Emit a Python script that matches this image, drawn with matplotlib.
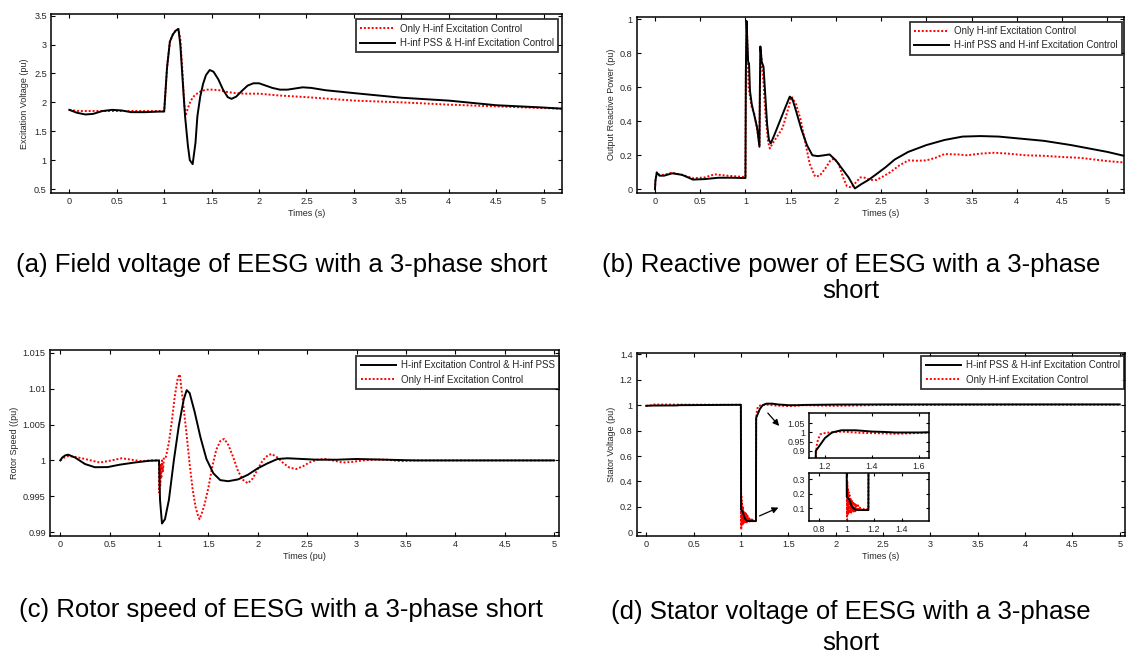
import matplotlib
matplotlib.use("Agg")
import matplotlib.pyplot as plt
from matplotlib.ticker import FuncFormatter

plt.rcParams['font.family'] = ['Liberation Sans', 'DejaVu Sans']

# ---------------- data ----------------
# (a) Field / excitation voltage
a_t_black = [0, 0.08, 0.17, 0.25, 0.35, 0.45, 0.55, 0.65, 0.8, 0.95, 1.0, 1.03, 1.06, 1.09, 1.12, 1.15,
             1.17, 1.19, 1.22, 1.25, 1.27, 1.30, 1.33, 1.35, 1.38, 1.41, 1.44, 1.48, 1.52, 1.57, 1.62,
             1.67, 1.71, 1.76, 1.82, 1.88, 1.94, 2.0, 2.07, 2.14, 2.22, 2.30, 2.38, 2.46, 2.55, 2.7,
             3.0, 3.5, 4.0, 4.5, 5.0, 5.2]
a_v_black = [1.87, 1.82, 1.79, 1.80, 1.85, 1.87, 1.86, 1.83, 1.83, 1.84, 1.84, 2.6, 3.05, 3.17, 3.24, 3.27,
             3.0, 2.5, 1.76, 1.25, 1.0, 0.93, 1.3, 1.76, 2.1, 2.32, 2.47, 2.56, 2.53, 2.40, 2.22,
             2.09, 2.06, 2.1, 2.2, 2.29, 2.33, 2.33, 2.29, 2.25, 2.22, 2.22, 2.24, 2.26, 2.25, 2.21,
             2.16, 2.08, 2.03, 1.95, 1.91, 1.89]
a_t_red = [0, 0.1, 0.3, 0.5, 0.7, 0.9, 1.0, 1.03, 1.06, 1.09, 1.12, 1.15, 1.17, 1.19, 1.21, 1.225,
           1.25, 1.28, 1.32, 1.37, 1.44, 1.5, 1.58, 1.66, 1.75, 1.85, 2.0, 2.2, 2.5, 3.0, 3.5, 4.0,
           4.5, 5.0, 5.2]
a_v_red = [1.87, 1.85, 1.85, 1.85, 1.85, 1.85, 1.85, 2.6, 3.05, 3.17, 3.24, 3.27, 3.1, 2.6, 2.0, 1.77,
           1.9, 2.03, 2.12, 2.18, 2.22, 2.22, 2.21, 2.18, 2.16, 2.15, 2.15, 2.12, 2.09, 2.03, 2.0, 1.96,
           1.93, 1.90, 1.89]

# (b) Reactive power
b_t_black = [0, 0.005, 0.02, 0.05, 0.1, 0.19, 0.3, 0.42, 0.55, 0.7, 0.85, 1.0, 1.005, 1.012, 1.02,
             1.03, 1.04, 1.05, 1.07, 1.1, 1.13, 1.155, 1.16, 1.165, 1.18, 1.2, 1.22, 1.24, 1.26, 1.28,
             1.32, 1.38, 1.44, 1.49, 1.52, 1.56, 1.62, 1.68, 1.74, 1.8, 1.87, 1.93, 2.0, 2.07, 2.14,
             2.21, 2.28, 2.36, 2.45, 2.55, 2.65, 2.8, 3.0, 3.2, 3.4, 3.6, 3.8, 4.0, 4.3, 4.6, 5.0, 5.2]
b_v_black = [0, 0.05, 0.098, 0.08, 0.08, 0.094, 0.085, 0.057, 0.06, 0.068, 0.068, 0.066, 0.7, 0.99, 0.88,
             0.75, 0.74, 0.58, 0.5, 0.43, 0.36, 0.25, 0.6, 0.84, 0.75, 0.72, 0.55, 0.38, 0.29, 0.27,
             0.32, 0.40, 0.48, 0.545, 0.53, 0.46, 0.35, 0.26, 0.2, 0.195, 0.2, 0.205, 0.17, 0.12, 0.07,
             0.005, 0.03, 0.055, 0.09, 0.13, 0.175, 0.22, 0.26, 0.29, 0.31, 0.313, 0.31, 0.3, 0.285, 0.26, 0.22, 0.195]
b_t_red = [0, 0.005, 0.02, 0.05, 0.1, 0.19, 0.3, 0.42, 0.55, 0.66, 0.8, 1.0, 1.005, 1.015, 1.025, 1.035,
           1.05, 1.07, 1.1, 1.13, 1.155, 1.16, 1.17, 1.18, 1.2, 1.22, 1.25, 1.27, 1.3, 1.35, 1.41,
           1.46, 1.51, 1.56, 1.61, 1.66, 1.71, 1.77, 1.82, 1.88, 1.94, 1.98, 2.03, 2.08, 2.12, 2.17,
           2.22, 2.27, 2.32, 2.38, 2.45, 2.52, 2.6, 2.7, 2.8, 2.9, 3.0, 3.1, 3.2, 3.35, 3.45, 3.6,
           3.75, 3.9, 4.1, 4.3, 4.5, 4.7, 5.0, 5.2]
b_v_red = [0, 0.05, 0.1, 0.085, 0.085, 0.098, 0.085, 0.065, 0.07, 0.088, 0.08, 0.072, 0.7, 0.98, 0.8, 0.6,
           0.55, 0.48, 0.44, 0.35, 0.26, 0.6, 0.82, 0.75, 0.62, 0.45, 0.28, 0.24, 0.27, 0.31, 0.36,
           0.45, 0.545, 0.5, 0.41, 0.28, 0.15, 0.075, 0.08, 0.12, 0.17, 0.18, 0.15, 0.07, 0.02, 0.01,
           0.04, 0.07, 0.068, 0.055, 0.055, 0.075, 0.1, 0.14, 0.17, 0.168, 0.17, 0.185, 0.207, 0.205, 0.2, 0.21,
           0.215, 0.21, 0.2, 0.197, 0.19, 0.185, 0.166, 0.157]

# (c) Rotor speed
c_t_black = [0, 0.02, 0.05, 0.08, 0.15, 0.25, 0.35, 0.48, 0.6, 0.75, 0.9, 1.0, 1.01, 1.03, 1.06, 1.1,
             1.15, 1.2, 1.25, 1.28, 1.31, 1.36, 1.42, 1.48, 1.55, 1.62, 1.7, 1.8, 1.9, 2.0, 2.1, 2.2,
             2.3, 2.45, 2.6, 2.8, 3.0, 3.3, 3.6, 4.0, 5.0]
c_v_black = [1.0, 1.0004, 1.0007, 1.0008, 1.0004, 0.9995, 0.99905, 0.99907, 0.9994, 0.9997, 0.99995, 1.0,
             0.9945, 0.9912, 0.9918, 0.9945, 1.0, 1.0048, 1.0085, 1.0098, 1.0094, 1.0068, 1.0032, 1.0002,
             0.9982, 0.99725, 0.9971, 0.99735, 0.9980, 0.9989, 0.9996, 1.0002, 1.0003, 1.0002, 1.0001,
             1.0001, 1.0002, 1.0001, 1.0, 1.0, 1.0]
c_t_red = [0, 0.04, 0.08, 0.15, 0.25, 0.4, 0.52, 0.62, 0.72, 0.82, 0.92, 1.0, 1.003, 1.008, 1.013, 1.018,
           1.023, 1.03, 1.04, 1.05, 1.07, 1.1, 1.13, 1.16, 1.19, 1.21, 1.24, 1.28, 1.31, 1.34, 1.37,
           1.39, 1.41, 1.43, 1.46, 1.5, 1.54, 1.58, 1.62, 1.66, 1.7, 1.75, 1.8, 1.85, 1.9, 1.95, 2.0,
           2.05, 2.1, 2.14, 2.2, 2.26, 2.32, 2.39, 2.46, 2.52, 2.6, 2.68, 2.76, 2.86, 2.96, 3.06, 3.2,
           3.3, 3.45, 3.6, 3.8, 4.0, 5.0]
c_v_red = [1.0, 1.0004, 1.0006, 1.0005, 1.0002, 0.9997, 1.0, 1.0003, 1.0001, 0.9999, 1.0, 1.0, 0.9955,
           0.999, 0.9965, 0.9995, 0.9975, 1.0, 0.9985, 1.0005, 1.0005, 1.0025, 1.0055, 1.009, 1.0115,
           1.012, 1.0085, 1.0035, 0.9995, 0.996, 0.9935, 0.9925, 0.9918, 0.9925, 0.9938, 0.9962,
           0.9992, 1.0015, 1.0027, 1.003, 1.0022, 1.0005, 0.9985, 0.9973, 0.9968, 0.9975, 0.9988,
           1.0, 1.0007, 1.0009, 1.0004, 0.9996, 0.999, 0.9988, 0.9992, 0.9997, 1.0001, 1.0002, 1.0,
           0.9997, 0.9998, 1.0, 1.0001, 1.0001, 0.9999, 1.0, 1.0, 1.0, 1.0]

# (d) Stator voltage
d_t_black = [0, 0.05, 0.33, 0.34, 0.99, 1.0, 1.002, 1.02, 1.04, 1.06, 1.08, 1.1, 1.159, 1.161, 1.175,
             1.2, 1.23, 1.27, 1.33, 1.4, 1.45, 1.5, 1.6, 1.67, 1.8, 2.0, 2.5, 3.0, 4.0, 5.0]
d_v_black = [0.995, 0.997, 0.998, 1.0, 1.003, 1.003, 0.18, 0.16, 0.11, 0.092, 0.088, 0.088, 0.088, 0.9,
             0.925, 0.97, 1.0, 1.012, 1.012, 1.005, 1.003, 1.0, 1.0, 1.002, 1.003, 1.005, 1.006, 1.006,
             1.006, 1.006]
d_t_red = [0, 0.05, 0.06, 0.99, 1.0, 1.002, 1.004, 1.006, 1.008, 1.010, 1.013, 1.016, 1.019, 1.022, 1.026,
           1.030, 1.034, 1.038, 1.043, 1.048, 1.053, 1.058, 1.064, 1.07, 1.077, 1.084, 1.092, 1.1, 1.11,
           1.12, 1.13, 1.14, 1.159, 1.161, 1.165, 1.17, 1.18, 1.19, 1.22, 1.27, 1.35, 1.45, 1.5, 1.6,
           1.67, 1.8, 2.0, 2.5, 3.0, 4.0, 5.0]
d_v_red = [0.995, 0.997, 1.005, 1.003, 1.003, 0.33, 0.02, 0.28, 0.05, 0.24, 0.06, 0.21, 0.065, 0.19, 0.07,
           0.17, 0.07, 0.16, 0.075, 0.15, 0.078, 0.14, 0.08, 0.13, 0.082, 0.12, 0.085, 0.11, 0.088,
           0.1, 0.09, 0.095, 0.092, 0.88, 0.93, 0.96, 0.99, 0.995, 1.0, 1.005, 0.998, 0.995, 0.993,
           0.997, 1.0, 0.998, 0.995, 1.002, 1.003, 1.004, 1.004]

x_ticks = [0, 0.5, 1, 1.5, 2, 2.5, 3, 3.5, 4, 4.5, 5]
a_yticks = [0.5, 1, 1.5, 2, 2.5, 3, 3.5]
b_yticks = [0, 0.2, 0.4, 0.6, 0.8, 1]
c_yticks = [0.99, 0.995, 1.0, 1.005, 1.01, 1.015]
d_yticks = [0, 0.2, 0.4, 0.6, 0.8, 1, 1.2, 1.4]
in1_xticks = [1.2, 1.4, 1.6]
in1_yticks = [0.9, 0.95, 1, 1.05]
in2_xticks = [0.8, 1, 1.2, 1.4]
in2_yticks = [0.1, 0.2, 0.3]

captions = [["(a) Field voltage of EESG with a 3-phase short"],
            ["(b) Reactive power of EESG with a 3-phase", "short"],
            ["(c) Rotor speed of EESG with a 3-phase short"],
            ["(d) Stator voltage of EESG with a 3-phase", "short"]]

# ---------------- layout ----------------
W, H = 1126, 657
fig = plt.figure(figsize=(W / 100, H / 100), dpi=100)
fig.patch.set_facecolor('white')

def add_ax(l, r, t, b):
    return fig.add_axes([l / W, 1 - b / H, (r - l) / W, (b - t) / H])

TXT = '#262626'
BLACK_KW = dict(color='black', lw=1.4, ls='-')
RED_KW = dict(color='#ff0000', lw=1.4, ls=(0, (1, 1)))

gfmt = FuncFormatter(lambda v, p: ('%g' % round(v, 6)))

def style(ax, xt, yt, xlim, ylim, fs=6.6, tl=3):
    ax.set_xlim(*xlim)
    ax.set_ylim(*ylim)
    ax.set_xticks(xt)
    ax.set_yticks(yt)
    ax.xaxis.set_major_formatter(gfmt)
    ax.yaxis.set_major_formatter(gfmt)
    ax.tick_params(direction='in', length=tl, width=0.8, top=True, right=True,
                   labelsize=fs, labelcolor=TXT, pad=3)
    for s in ax.spines.values():
        s.set_linewidth(1.1)
        s.set_color('black')

def legend(ax, handles_order, labels, x, y):
    lg = ax.legend(handles_order, labels, loc='upper right', bbox_to_anchor=(x, y),
                   borderaxespad=0, fontsize=7.0, frameon=True, fancybox=False,
                   edgecolor='black', handlelength=3.6, handletextpad=0.5,
                   labelspacing=0.45, borderpad=0.45)
    lg.get_frame().set_linewidth(1.3)
    for t in lg.get_texts():
        t.set_color(TXT)

# (a)
ax_a = add_ax(51, 561.7, 14.3, 192.7)
r_a, = ax_a.plot(a_t_red, a_v_red, **RED_KW)
k_a, = ax_a.plot(a_t_black, a_v_black, **BLACK_KW)
style(ax_a, x_ticks, a_yticks, (-0.193, 5.19), (0.436, 3.524))
ax_a.set_xlabel('Times (s)', fontsize=6.5, color=TXT, labelpad=2)
ax_a.set_ylabel('Excitation Voltage (pu)', fontsize=6.5, color=TXT, labelpad=4)
legend(ax_a, [r_a, k_a], ['Only H-inf Excitation Control', 'H-inf PSS & H-inf Excitation Control'],
       0.9935, 0.972)

# (b)
ax_b = add_ax(636.7, 1124, 16.7, 192.7)
r_b, = ax_b.plot(b_t_red, b_v_red, **RED_KW)
k_b, = ax_b.plot(b_t_black, b_v_black, **BLACK_KW)
style(ax_b, x_ticks, b_yticks, (-0.202, 5.185), (-0.02, 1.015))
ax_b.set_xlabel('Times (s)', fontsize=6.5, color=TXT, labelpad=2)
ax_b.set_ylabel('Output Reactive Power (pu)', fontsize=6.5, color=TXT, labelpad=3)
legend(ax_b, [r_b, k_b], ['Only H-inf Excitation Control', 'H-inf PSS and H-inf Excitation Control'],
       0.996, 0.9716)

# (c)
ax_c = add_ax(50, 559, 350, 535.7)
r_c, = ax_c.plot(c_t_red, c_v_red, **RED_KW)
k_c, = ax_c.plot(c_t_black, c_v_black, **BLACK_KW)
style(ax_c, x_ticks, c_yticks, (-0.104, 5.05), (0.9895, 1.0154))
ax_c.set_xlabel('Times (pu)', fontsize=6.5, color=TXT, labelpad=2)
ax_c.set_ylabel('Rotor Speed ((pu)', fontsize=6.5, color=TXT, labelpad=3)
legend(ax_c, [k_c, r_c], ['H-inf Excitation Control & H-inf PSS', 'Only H-inf Excitation Control'],
       1.0, 0.968)

# (d)
ax_d = add_ax(636.7, 1124.5, 352.7, 535.7)
r_d, = ax_d.plot(d_t_red, d_v_red, **RED_KW)
k_d, = ax_d.plot(d_t_black, d_v_black, **BLACK_KW)
style(ax_d, x_ticks, d_yticks, (-0.1, 5.05), (-0.027, 1.413))
ax_d.set_xlabel('Times (s)', fontsize=6.5, color=TXT, labelpad=2)
ax_d.set_ylabel('Stator Voltage (pu)', fontsize=6.5, color=TXT, labelpad=3)
legend(ax_d, [k_d, r_d], ['H-inf PSS & H-inf Excitation Control', 'Only H-inf Excitation Control'],
       0.999, 0.982)

# insets of (d)
ax_i1 = add_ax(809, 929, 413.3, 458.3)
ax_i1.plot(d_t_red, d_v_red, **RED_KW)
ax_i1.plot(d_t_black, d_v_black, **BLACK_KW)
style(ax_i1, in1_xticks, in1_yticks, (1.132, 1.643), (0.86, 1.104), fs=6.4, tl=2.5)

ax_i2 = add_ax(809, 929, 473.3, 520.7)
ax_i2.plot(d_t_red, d_v_red, **RED_KW)
ax_i2.plot(d_t_black, d_v_black, **BLACK_KW)
style(ax_i2, in2_xticks, in2_yticks, (0.727, 1.6), (0.015, 0.34), fs=6.4, tl=2.5)

def fpix(x, y):
    return (x / W, 1 - y / H)

arrow_kw = dict(arrowstyle='-|>', color='black', lw=0.9, mutation_scale=9)
fig.add_artist(matplotlib.patches.FancyArrowPatch(fpix(766, 411), fpix(781, 428),
                                                   transform=fig.transFigure, **arrow_kw))
fig.add_artist(matplotlib.patches.FancyArrowPatch(fpix(757, 517), fpix(781, 506.5),
                                                   transform=fig.transFigure, **arrow_kw))

# captions
cap_fs = 18.5
cap_pos = [[(282, 265)], [(851, 265), (851, 291)], [(281, 610)], [(851, 612), (851, 643)]]
for lines, poss in zip(captions, cap_pos):
    for line, (cx, cy) in zip(lines, poss):
        fig.text(cx / W, 1 - cy / H, line, ha='center', va='center', fontsize=cap_fs, color='black')

fig.savefig('out.png', dpi=100, facecolor='white')
